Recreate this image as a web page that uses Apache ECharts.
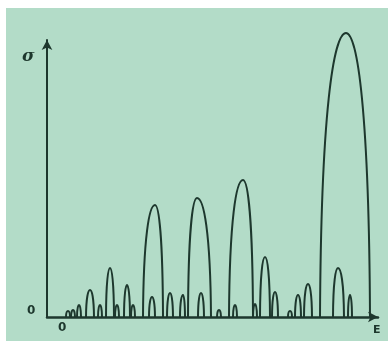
<!DOCTYPE html>
<html>
<head>
<meta charset="utf-8">
<script src="https://cdn.jsdelivr.net/npm/echarts@6/dist/echarts.min.js"></script>
<style>
  html, body { margin: 0; padding: 0; background: #ffffff; }
  #chart { width: 388px; height: 341px; }
</style>
</head>
<body>
<div id="chart"></div>
<script>
// each arch: left foot, peak position, right foot, peak height (energy / cross-section units)
const archLeft   = [9.6, 14.1, 18.2, 21.3, 27.3, 28.6, 5.9, 3.9, 7.7, 25.7, 24.8, 22.5,
                    1.9, 2.4, 3.0, 5.1, 6.8, 8.4, 10.2, 12.0, 13.3, 15.1, 17.0, 18.6, 20.6, 24.1, 30.1];
const archPeak   = [10.8, 15.0, 19.6, 21.8, 29.9, 29.1, 6.3, 4.3, 8.0, 26.1, 25.1, 22.8,
                    2.1, 2.6, 3.2, 5.3, 7.0, 8.6, 10.5, 12.3, 13.6, 15.4, 17.2, 18.8, 20.8, 24.3, 30.3];
const archRight  = [11.6, 16.4, 20.6, 22.3, 32.3, 29.7, 6.7, 4.7, 8.3, 26.5, 25.4, 23.1,
                    2.3, 2.8, 3.4, 5.5, 7.2, 8.8, 10.8, 12.6, 13.8, 15.7, 17.4, 19.0, 21.0, 24.5, 30.5];
const archHeight = [11.2, 11.9, 13.7, 6.0, 28.4, 4.9, 4.9, 2.7, 3.2, 3.3, 2.2, 2.5,
                    0.6, 0.7, 1.2, 1.2, 1.2, 1.2, 2.0, 2.4, 2.2, 2.4, 0.7, 1.2, 1.3, 0.6, 2.2];

const ink = '#1d372d';

const chart = echarts.init(document.getElementById('chart'));

const arches = archLeft.map((l, i) => [l, archPeak[i], archRight[i], archHeight[i]]);

const option = {
  backgroundColor: '#ffffff',
  animation: false,
  graphic: [
    { type: 'rect', z: -10, silent: true, shape: { x: 6, y: 8, width: 382, height: 333 }, style: { fill: '#b3dcc8' } },
    { type: 'text', left: 22, top: 48, style: { text: 'σ', font: 'italic bold 17px "DejaVu Serif"', fill: ink } },
    { type: 'text', left: 27, top: 305, style: { text: '0', font: 'bold 12px "DejaVu Sans"', fill: ink } },
    { type: 'text', left: 58, top: 322, style: { text: '0', font: 'bold 12px "DejaVu Sans"', fill: ink } },
    { type: 'text', left: 373, top: 325, style: { text: 'E', font: 'bold 11px "DejaVu Sans"', fill: ink } }
  ],
  grid: { left: 47, right: 10, top: 40, bottom: 24 },
  xAxis: {
    type: 'value',
    min: 0,
    max: 33.1,
    axisLine: { show: true, symbol: ['none', 'arrow'], symbolSize: [8, 10], lineStyle: { color: ink, width: 2.5 } },
    axisTick: { show: false },
    axisLabel: { show: false },
    splitLine: { show: false }
  },
  yAxis: {
    type: 'value',
    min: 0,
    max: 27.7,
    axisLine: { show: true, symbol: ['none', 'arrow'], symbolSize: [8, 10], lineStyle: { color: ink, width: 2 } },
    axisTick: { show: false },
    axisLabel: { show: false },
    splitLine: { show: false }
  },
  series: [
    {
      type: 'custom',
      clip: false,
      data: arches,
      encode: { x: [0, 1, 2], y: 3 },
      renderItem: (params, api) => {
        const l = api.coord([api.value(0), 0]);
        const p = api.coord([api.value(1), api.value(3)]);
        const r = api.coord([api.value(2), 0]);
        const wl = p[0] - l[0];
        const wr = r[0] - p[0];
        const h = l[1] - p[1];
        const d = 'M' + l[0] + ' ' + l[1] +
          ' C' + (l[0] + wl * 0.04) + ' ' + (l[1] - h * 0.72) + ' ' + (p[0] - wl * 0.48) + ' ' + p[1] + ' ' + p[0] + ' ' + p[1] +
          ' C' + (p[0] + wr * 0.48) + ' ' + p[1] + ' ' + (r[0] - wr * 0.04) + ' ' + (r[1] - h * 0.72) + ' ' + r[0] + ' ' + r[1];
        return {
          type: 'path',
          shape: { pathData: d },
          style: { fill: 'none', stroke: ink, lineWidth: 2 }
        };
      }
    }
  ]
};

chart.setOption(option);
</script>
</body>
</html>
